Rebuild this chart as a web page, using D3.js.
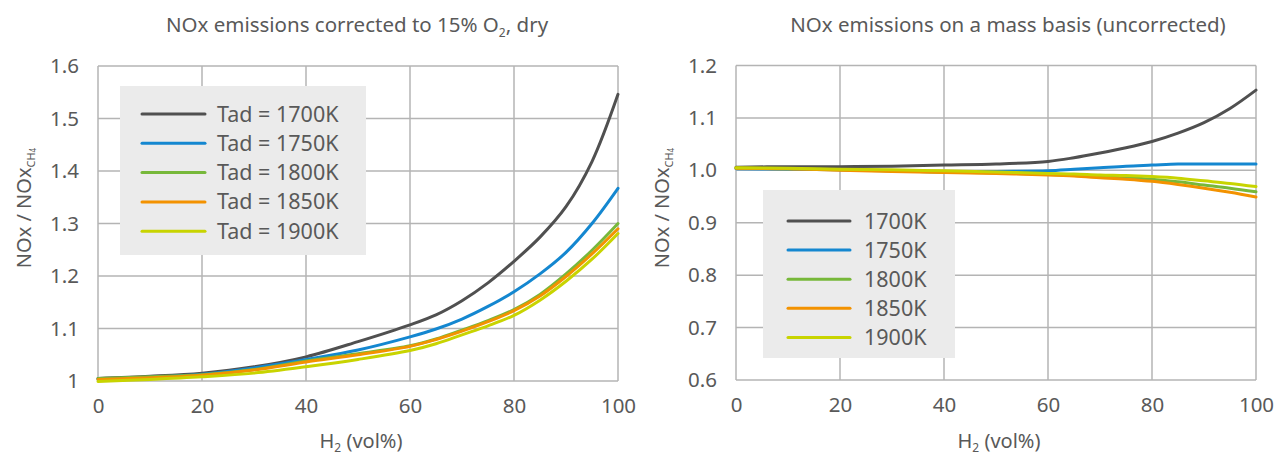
<!DOCTYPE html>
<html><head><meta charset="utf-8">
<script src="https://cdn.jsdelivr.net/npm/d3@7"></script>
<style>
html,body{margin:0;padding:0;background:#fff;}
svg{display:block;font-family:"Noto Sans",sans-serif;}
</style></head>
<body>
<svg id="c" width="1286" height="457"></svg>
<script>
// ---- data ----
const h2 = [0,10,20,30,40,50,60,65,70,75,80,85,90,95,100];
const seriesNames = ["1700K","1750K","1800K","1850K","1900K"];
const colors = ["#505050","#1487d0","#77b83a","#f39200","#c8d400"];

// left: corrected to 15% O2
const corr1700 = [1.005,1.009,1.015,1.027,1.046,1.075,1.107,1.126,1.153,1.187,1.228,1.274,1.332,1.418,1.546];
const corr1750 = [1.003,1.007,1.013,1.025,1.041,1.059,1.084,1.099,1.118,1.142,1.170,1.204,1.245,1.300,1.367];
const corr1800 = [1.005,1.008,1.012,1.022,1.038,1.052,1.067,1.080,1.097,1.115,1.136,1.165,1.204,1.249,1.300];
const corr1850 = [1.003,1.006,1.011,1.021,1.036,1.050,1.066,1.079,1.095,1.113,1.134,1.162,1.199,1.242,1.290];
const corr1900 = [0.999,1.003,1.008,1.015,1.027,1.041,1.058,1.071,1.088,1.105,1.125,1.154,1.190,1.232,1.281];

// right: mass basis
const mass1700 = [1.006,1.007,1.007,1.008,1.010,1.012,1.017,1.024,1.033,1.043,1.055,1.071,1.091,1.118,1.153];
const mass1750 = [1.003,1.002,1.001,0.999,0.997,0.998,0.999,1.002,1.005,1.008,1.010,1.012,1.012,1.012,1.012];
const mass1800 = [1.004,1.003,1.001,0.999,0.997,0.995,0.992,0.990,0.988,0.986,0.983,0.978,0.972,0.966,0.959];
const mass1850 = [1.004,1.003,1.000,0.998,0.996,0.994,0.991,0.989,0.986,0.983,0.979,0.973,0.966,0.958,0.949];
const mass1900 = [1.005,1.004,1.002,1.001,0.999,0.997,0.994,0.993,0.991,0.990,0.988,0.985,0.980,0.975,0.969];

const xTicks = [0,20,40,60,80,100];
const yTicksLeft = [1,1.1,1.2,1.3,1.4,1.5,1.6];
const yTicksRight = [0.6,0.7,0.8,0.9,1.0,1.1,1.2];
const legendLeft = ["Tad = 1700K","Tad = 1750K","Tad = 1800K","Tad = 1850K","Tad = 1900K"];
const legendRight = ["1700K","1750K","1800K","1850K","1900K"];

const svg = d3.select("#c");
const textCol = "#595959", gridCol = "#b4b4b4";

function panel(o){
  const x = d3.scaleLinear().domain([0,100]).range([o.x0,o.x1]);
  const y = d3.scaleLinear().domain(o.ydom).range([o.y1,o.y0]);
  const g = svg.append("g");
  // grid
  g.selectAll(".gy").data(o.yticks).enter().append("line")
    .attr("x1",o.x0).attr("x2",o.x1).attr("y1",d=>y(d)).attr("y2",d=>y(d))
    .attr("stroke",gridCol).attr("stroke-width",1.5);
  g.selectAll(".gx").data(xTicks).enter().append("line")
    .attr("y1",o.y0).attr("y2",o.y1).attr("x1",d=>x(d)).attr("x2",d=>x(d))
    .attr("stroke",gridCol).attr("stroke-width",1.5);
  // axes
  const ax = d3.axisBottom(x).tickValues(xTicks).tickSize(0).tickPadding(17);
  const gx = g.append("g").attr("transform",`translate(0,${o.y1})`).call(ax);
  gx.select(".domain").remove();
  gx.selectAll("text").attr("fill",textCol).attr("font-size",20.5).attr("font-family","Noto Sans");
  const ay = d3.axisLeft(y).tickValues(o.yticks).tickSize(0).tickPadding(19).tickFormat(o.fmt);
  const gy = g.append("g").attr("transform",`translate(${o.x0},0)`).call(ay);
  gy.select(".domain").remove();
  gy.selectAll("text").attr("fill",textCol).attr("font-size",20.5).attr("font-family","Noto Sans");
  // lines
  const line = d3.line().x((d,i)=>x(h2[i])).y(d=>y(d)).curve(d3.curveCatmullRom.alpha(0.5));
  o.series.forEach((s,i)=>{
    g.append("path").attr("d",line(s)).attr("fill","none")
      .attr("stroke",colors[i]).attr("stroke-width",3).attr("stroke-linecap","round");
  });
  // title
  const t = g.append("text").attr("x",o.tx).attr("y",32).attr("text-anchor","middle")
    .attr("fill",textCol).attr("font-size",20.5);
  o.title(t);
  // x title
  const xt = g.append("text").attr("x",(o.x0+o.x1)/2+3).attr("y",448).attr("text-anchor","middle")
    .attr("fill",textCol).attr("font-size",20);
  xt.append("tspan").text("H");
  xt.append("tspan").text("2").attr("font-size",12).attr("dy",4);
  xt.append("tspan").text(" (vol%)").attr("dy",-4);
  // y title
  const yt = g.append("text").attr("transform",`translate(${o.x0-67},208) rotate(-90)`)
    .attr("text-anchor","middle").attr("fill",textCol).attr("font-size",20);
  yt.append("tspan").text("NOx / NOx");
  yt.append("tspan").text("CH").attr("font-size",11).attr("dy",4);
  yt.append("tspan").text("4").attr("font-size",8).attr("dy",1);
  // legend
  const L = o.legend;
  g.append("rect").attr("x",L.x).attr("y",L.y).attr("width",L.w).attr("height",L.h).attr("fill","#ebebeb");
  L.labels.forEach((lab,i)=>{
    const yy = L.y + L.first + i*L.step;
    g.append("line").attr("x1",L.lx0).attr("x2",L.lx1).attr("y1",yy).attr("y2",yy)
      .attr("stroke",colors[i]).attr("stroke-width",3).attr("stroke-linecap","round");
    g.append("text").attr("x",L.tx).attr("y",yy+7.5).attr("fill",textCol).attr("font-size",21.5).text(lab);
  });
}

panel({x0:98,x1:618,y0:66,y1:381,ydom:[1,1.6],yticks:yTicksLeft,
  fmt:d=>d===1?"1":d3.format(".1f")(d),
  series:[corr1700,corr1750,corr1800,corr1850,corr1900], tx:357,
  title:t=>{t.append("tspan").text("NOx emissions corrected to 15% O");
    t.append("tspan").text("2").attr("font-size",12).attr("dy",5);
    t.append("tspan").text(", dry").attr("dy",-5);},
  legend:{x:120,y:86,w:246,h:169,first:28,step:29.3,lx0:142,lx1:205,tx:217,labels:legendLeft}});

panel({x0:736,x1:1256,y0:65.5,y1:380,ydom:[0.6,1.2],yticks:yTicksRight,
  fmt:d3.format(".1f"),
  series:[mass1700,mass1750,mass1800,mass1850,mass1900], tx:1008,
  title:t=>{t.text("NOx emissions on a mass basis (uncorrected)");},
  legend:{x:763,y:190,w:192,h:168,first:31,step:29.1,lx0:788,lx1:850,tx:864,labels:legendRight}});
</script>
</body></html>
